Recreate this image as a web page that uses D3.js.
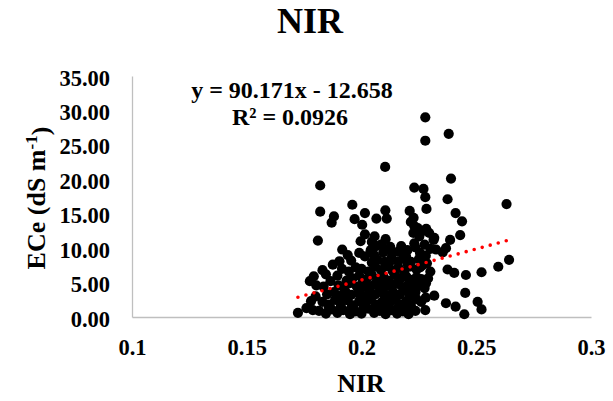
<!DOCTYPE html>
<html lang="en">
<head>
<meta charset="utf-8">
<title>NIR vs ECe</title>
<script src="https://cdn.jsdelivr.net/npm/d3@7"></script>
<style>
    body { margin: 0; background: #fff; }
    text { font-family: "Liberation Serif", "Times New Roman", serif; font-weight: bold; fill: #000; }
</style>
</head>
<body>
<svg id="chart" width="613" height="401"></svg>
<script>
// NIR (x) vs ECe (y)
var samples = [
    [0.2278,29.0],[0.2278,25.6],[0.2380,26.6],[0.2103,21.8],[0.2390,20.1],[0.1820,19.1],[0.2230,18.8],[0.2270,18.6],
    [0.2278,17.4],[0.2375,17.1],[0.1820,15.3],[0.1960,16.3],[0.2104,15.5],[0.2110,14.3],[0.2210,15.4],[0.2227,14.4],
    [0.2230,13.2],[0.2283,15.7],[0.2015,15.1],[0.1970,14.2],[0.1880,14.6],[0.1870,13.7],[0.2065,14.3],[0.2003,13.4],
    [0.2410,15.1],[0.2438,13.9],[0.2430,11.9],[0.2386,11.2],[0.1810,11.1],[0.2226,12.2],[0.2252,11.7],[0.2317,11.5],
    [0.2015,12.0],[0.2057,11.7],[0.2064,10.3],[0.1996,11.0],[0.1990,9.3],[0.1916,9.8],[0.1940,9.0],[0.1875,7.6],
    [0.1904,8.1],[0.1830,6.8],[0.2173,10.3],[0.2194,8.8],[0.2230,10.7],[0.2325,9.8],[0.2368,10.0],[0.2375,6.9],
    [0.2404,6.4],[0.2455,6.1],[0.2452,3.5],[0.2368,2.0],[0.2410,1.5],[0.2448,0.4],[0.2278,1.0],[0.2260,2.2],
    [0.2317,3.1],[0.2281,4.9],[0.2643,8.3],[0.2596,7.3],[0.2523,6.5],[0.2506,2.2],[0.2523,1.1],[0.2632,16.4],
    [0.1723,0.6],[0.1760,1.3],[0.1788,1.0],[0.1775,5.2],[0.1792,5.9],[0.1803,4.6],[0.2354,9.4],[0.2314,11.2],
    [0.1800,3.0],[0.1780,2.3],
    [0.2215,13.8],[0.2245,12.9],[0.2262,12.4],[0.2282,12.8],[0.2295,12.2],[0.2235,10.1],[0.2275,10.5],[0.2300,9.9],
    [0.2255,9.3],[0.2045,10.9],[0.2085,10.5],[0.2105,11.3],[0.2125,10.2],[0.2135,9.3],[0.2095,9.4],[0.2055,9.0],
    [0.2015,8.8],[0.1955,8.2],[0.1975,7.2],[0.1945,6.6],[0.1845,6.2],[0.1865,5.2],[0.1835,4.4],[0.1895,6.0],[0.1915,7.0],
    [0.1815,0.9],[0.1845,0.5],[0.1870,1.1],[0.1895,0.6],[0.1920,1.0],[0.1950,0.4],[0.1975,0.8],[0.2000,0.5],
    [0.2030,1.2],[0.2055,0.6],[0.2080,0.9],[0.2105,0.4],[0.2130,1.0],[0.2155,0.5],[0.2180,0.8],[0.2205,0.4],[0.2235,0.9],
    [0.1830,2.2],[0.1860,1.8],[0.1885,2.5],[0.1910,1.9],[0.1940,2.4],[0.1965,1.7],[0.1990,2.3],[0.2015,2.0],
    [0.2040,2.6],[0.2065,1.8],[0.2090,2.2],[0.2120,1.9],[0.2145,2.5],[0.2170,1.8],[0.2195,2.3],[0.2215,1.7],[0.2240,2.6],
    [0.1850,3.3],[0.1880,3.6],[0.1905,3.1],[0.1930,3.7],[0.1955,3.2],[0.1985,3.5],[0.2010,3.0],[0.2035,3.8],
    [0.2060,3.3],[0.2085,3.6],[0.2110,3.1],[0.2140,3.5],[0.2165,3.2],[0.2190,3.8],[0.2210,3.0],[0.2235,3.6],
    [0.1900,4.6],[0.1925,4.2],[0.1950,4.9],[0.1980,4.4],[0.2005,4.8],[0.2030,4.3],[0.2055,4.7],[0.2080,4.2],
    [0.2105,4.9],[0.2130,4.4],[0.2155,4.8],[0.2180,4.3],[0.2200,4.6],[0.2220,4.2],
    [0.1960,5.6],[0.1990,6.0],[0.2020,5.4],[0.2045,6.1],[0.2070,5.5],[0.2095,5.9],[0.2120,5.3],[0.2145,6.2],
    [0.2170,5.6],[0.2195,5.9],[0.2215,5.4],[0.2240,5.8],[0.2260,5.5],
    [0.2000,7.0],[0.2030,6.6],[0.2060,7.3],[0.2085,6.8],[0.2110,7.4],[0.2135,6.7],[0.2160,7.2],[0.2185,6.6],
    [0.2210,7.3],[0.2240,6.9],[0.2265,7.5],
    [0.2070,8.3],[0.2100,8.0],[0.2130,8.6],[0.2160,8.1],[0.2185,8.7],[0.2215,8.0],[0.2250,8.4],[0.2280,8.9],
    [0.2285,7.8],[0.2300,6.6],[0.2290,5.6],[0.2275,4.2],[0.2260,4.6],[0.2280,2.8],
    [0.1858,1.4],[0.1908,1.3],[0.1958,1.5],[0.2008,1.3],[0.2058,1.4],[0.2108,1.5],[0.2158,1.3],[0.2208,1.4],
    [0.1930,2.9],[0.1995,4.0],[0.2045,3.0],[0.2095,4.1],[0.2150,2.9],[0.2200,4.0],
    [0.1935,5.3],[0.2005,5.1],[0.2085,5.1],[0.2160,5.1],[0.2230,5.0],
    [0.2045,7.9],[0.2120,7.8],[0.2200,7.7],[0.2255,7.2],
    [0.2040,9.7],[0.2115,9.8],[0.2160,9.5],[0.2200,9.7]
];

var xTicks = [0.1, 0.15, 0.2, 0.25, 0.3];
var xTickLabels = ["0.1", "0.15", "0.2", "0.25", "0.3"];
var yTicks = [0, 5, 10, 15, 20, 25, 30, 35];

// linear trendline from the chart label: y = 90.171x - 12.658
var trendCoef = [90.171, -12.658];
var trendLabel = ["y = 90.171x - 12.658", "R² = 0.0926"];

var svg = d3.select("#chart");

var x = d3.scaleLinear().domain([0.1, 0.3]).range([132, 591]);
var y = d3.scaleLinear().domain([0, 35]).range([317, 76]);

// axes (no tick marks, light grey line)
var xAxis = svg.append("g")
    .attr("transform", "translate(0," + y(0) + ")")
    .call(d3.axisBottom(x).tickValues(xTicks).tickSize(0).tickPadding(22)
        .tickFormat(function (d, i) { return xTickLabels[i]; }));

var yAxis = svg.append("g")
    .attr("transform", "translate(" + x(0.1) + ",0)")
    .call(d3.axisLeft(y).tickValues(yTicks).tickSize(0).tickPadding(22)
        .tickFormat(d3.format(".2f")));

svg.selectAll(".domain").attr("stroke", "#bfbfbf").attr("stroke-width", 1.3);
svg.selectAll(".tick text")
    .style("font-family", "'Liberation Serif', 'Times New Roman', serif")
    .style("font-weight", "bold")
    .style("font-size", "22.5px")
    .attr("fill", "#000");
yAxis.selectAll(".tick text").attr("dy", "0.4em");
xAxis.selectAll(".tick text").attr("dy", "0.71em");

// points
svg.append("g")
    .selectAll("circle")
    .data(samples)
    .enter()
    .append("circle")
    .attr("cx", function (d) { return x(d[0]); })
    .attr("cy", function (d) { return y(d[1]); })
    .attr("r", 5.1)
    .attr("fill", "#000");

// dotted red trendline over the data range
var xExt = d3.extent(samples, function (d) { return d[0]; });
svg.append("line")
    .attr("x1", x(xExt[0]))
    .attr("y1", y(trendCoef[0] * xExt[0] + trendCoef[1]))
    .attr("x2", x(xExt[1]))
    .attr("y2", y(trendCoef[0] * xExt[1] + trendCoef[1]))
    .attr("stroke", "#ff0000")
    .attr("stroke-width", 3.6)
    .attr("stroke-linecap", "round")
    .attr("stroke-dasharray", "0 8.3");

// equation label
svg.append("text").attr("x", 292).attr("y", 98).attr("text-anchor", "middle")
    .style("font-size", "24px").text(trendLabel[0]);
svg.append("text").attr("x", 290).attr("y", 125).attr("text-anchor", "middle")
    .style("font-size", "24px").text(trendLabel[1]);

// title
svg.append("text").attr("x", 310).attr("y", 33).attr("text-anchor", "middle")
    .style("font-size", "36px").text("NIR");

// axis titles
svg.append("text").attr("x", 361).attr("y", 392).attr("text-anchor", "middle")
    .style("font-size", "26px").text("NIR");

var yTitle = svg.append("text")
    .attr("transform", "translate(45,198) rotate(-90)")
    .attr("text-anchor", "middle")
    .style("font-size", "26px");
yTitle.append("tspan").text("ECe (dS m");
yTitle.append("tspan").attr("dy", "-0.45em").style("font-size", "17px").text("-1");
yTitle.append("tspan").attr("dy", "0.45em").text(")");
</script>
</body>
</html>
